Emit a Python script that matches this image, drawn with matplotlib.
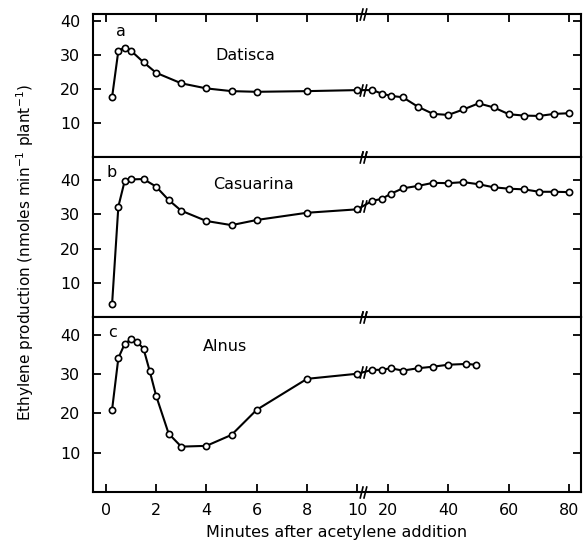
import numpy as np
import matplotlib.pyplot as plt
from matplotlib.path import Path

# Datisca (panel a)
t_dat = [0.25, 0.5, 0.75, 1.0, 1.5, 2, 3, 4, 5, 6, 8, 10,
         15, 18, 21, 25, 30, 35, 40, 45, 50, 55, 60, 65, 70, 75, 80]
y_dat = [17.5, 31.2, 32.1, 31.2, 27.8, 24.7, 21.6, 20.1, 19.3, 19.1, 19.3, 19.6,
         19.6, 18.6, 17.9, 17.5, 14.7, 12.6, 12.3, 13.9, 15.7, 14.5, 12.5, 12.1, 12.0, 12.6, 12.8]

# Casuarina (panel b)
t_cas = [0.25, 0.5, 0.75, 1.0, 1.5, 2.0, 2.5, 3, 4, 5, 6, 8, 10,
         15, 18, 21, 25, 30, 35, 40, 45, 50, 55, 60, 65, 70, 75, 80]
y_cas = [3.9, 32.3, 39.7, 40.2, 40.3, 38.1, 34.2, 31.1, 28.1, 26.9, 28.4, 30.5, 31.5,
         34.0, 34.5, 36.0, 37.6, 38.3, 39.2, 39.1, 39.4, 38.8, 37.9, 37.5, 37.3, 36.6, 36.6, 36.5]

# Alnus (panel c)
t_aln = [0.25, 0.5, 0.75, 1.0, 1.25, 1.5, 1.75, 2.0, 2.5, 3, 4, 5, 6, 8, 10,
         15, 18, 21, 25, 30, 35, 40, 46, 49]
y_aln = [20.9, 34.1, 37.7, 38.9, 38.2, 36.5, 30.7, 24.5, 14.8, 11.5, 11.7, 14.5, 20.9, 28.8, 30.1,
         31.1, 31.1, 31.5, 30.9, 31.5, 31.9, 32.4, 32.6, 32.4]

letters = ['a', 'b', 'c']
names = ['Datisca', 'Casuarina', 'Alnus']
xticks = [0, 2, 4, 6, 8, 10, 20, 40, 60, 80]
yticks = [10, 20, 30, 40]

# broken x axis: 0-10 min linear, beyond 10 compressed
K = 8.3
def fwd(x):
    x = np.asarray(x, dtype=float)
    return np.where(x <= 10, x, 10 + (x - 10) / K)

def inv(u):
    u = np.asarray(u, dtype=float)
    return np.where(u <= 10, u, 10 + (u - 10) * K)

# "//" break marker
brk = Path([(-0.55, -1), (-0.05, 1), (0.05, -1), (0.55, 1)],
           [Path.MOVETO, Path.LINETO, Path.MOVETO, Path.LINETO])
XBRK = 12

plt.rcParams['font.family'] = 'DejaVu Sans'
fig, axes = plt.subplots(3, 1, figsize=(5.83, 5.44), dpi=100, sharex=True,
                         gridspec_kw=dict(height_ratios=[142.7, 160.6, 174.4], hspace=0))
fig.subplots_adjust(left=92.7/583, right=580.7/583, top=1-14/544, bottom=1-491.7/544)

data = [(t_dat, y_dat), (t_cas, y_cas), (t_aln, y_aln)]
ylims = [(0, 42), (0.1, 46.8), (0, 44.5)]
letter_pos = [(0.058, 0.88), (0.039, 0.90), (0.040, 0.915)]
name_pos = [(0.3135, 0.706), (0.3285, 0.824), (0.271, 0.835)]

for i, ax in enumerate(axes):
    t, y = data[i]
    ax.set_xscale('function', functions=(fwd, inv))
    ax.plot(t, y, '-', color='black', lw=1.5, marker='o', ms=4.5,
            mfc='white', mec='black', mew=1.2, zorder=3)
    # break marks on the data line and on spines
    ax.plot([XBRK], [np.interp(XBRK, t, y)], marker=brk, ms=9, color='black',
            mew=1.2, ls='none', zorder=4)
    ax.plot([XBRK, XBRK], [0, 1], transform=ax.get_xaxis_transform(), marker=brk,
            ms=9, color='black', mew=1.2, ls='none', clip_on=False, zorder=5)
    ax.set_ylim(*ylims[i])
    ax.set_xlim(-0.52, 83.7)
    ax.set_yticks(yticks)
    ax.set_xticks(xticks)
    ax.set_xticklabels([str(v) for v in xticks])
    ax.tick_params(axis='y', direction='in', length=6, width=1.3, right=True,
                   labelsize=11.5, pad=9)
    ax.tick_params(axis='x', direction='in', length=6, width=1.3,
                   top=(i == 0), bottom=(i == 2), labelsize=11.5, pad=8)
    for s in ax.spines.values():
        s.set_linewidth(1.5)
    ax.text(*letter_pos[i], letters[i], transform=ax.transAxes, fontsize=11.5,
            ha='center', va='center')
    ax.text(*name_pos[i], names[i], transform=ax.transAxes, fontsize=11.5,
            ha='center', va='center')

axes[2].set_xlabel('Minutes after acetylene addition', fontsize=11.5, labelpad=5)
fig.text(25/583, 1-253/544, r'Ethylene production (nmoles min$^{-1}$ plant$^{-1}$)',
         rotation=90, ha='center', va='center', fontsize=11)

fig.savefig('out.png', dpi=100)
